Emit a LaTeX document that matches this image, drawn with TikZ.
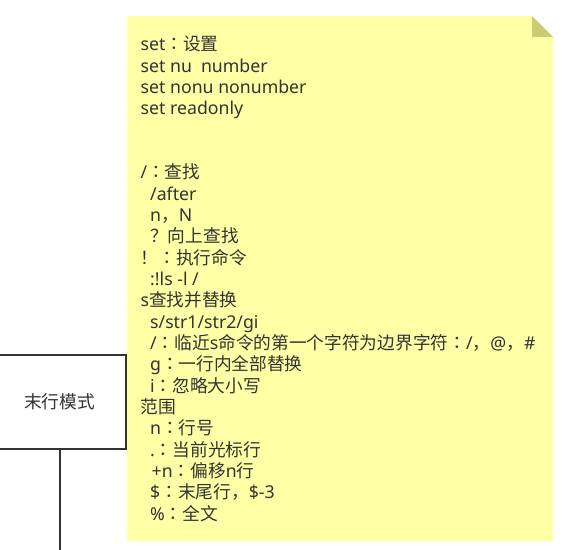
\documentclass[tikz,border=0pt]{standalone}
\usepackage{fontspec}
\setmainfont{Noto Sans}
\newfontfamily\cjk{Noto Sans CJK SC}
\newfontfamily\jpf{Noto Sans CJK JP}
\definecolor{notefill}{HTML}{FFFFA5}
\definecolor{notefold}{HTML}{CCCC77}
\definecolor{inkc}{HTML}{333333}
\newcommand\ind{\hspace*{9.5pt}}
\newcommand\cc{{\jpf ：}}
\begin{document}
\begin{tikzpicture}[x=1pt,y=-1pt,
  modebox/.style={draw=inkc,line width=2pt,fill=white,minimum width=133pt,minimum height=94pt,inner sep=0pt,text=inkc,font=\fontsize{17.7}{20}\selectfont\cjk},
  conn/.style={draw=inkc,line width=2pt},
  txt/.style={anchor=base west,inner sep=0pt,text=inkc,font=\fontsize{17.7}{20}\selectfont}]
\useasboundingbox (0,0) rectangle (588,549);
% note
\fill[notefill] (127,16) -- (532,16) -- (553,37) -- (553,541) -- (127,541) -- cycle;
\fill[notefold] (532,16) -- (553,37) -- (532,37) -- cycle;
% box and connector
\node[modebox] (mode) at (59.5,402) {末行模式};
\coordinate (lineend) at (59.5,552);
\draw[conn] (mode.south) -- (lineend);
% note text
\node[txt] (l1) at (140.5,50.7) {set\cc{\cjk 设置}};
\node[txt] (l2) at (140.5,72.0) {set nu\hspace{9pt}number};
\node[txt] (l3) at (140.5,93.4) {set nonu nonumber};
\node[txt] (l4) at (140.5,114.7) {set readonly};
\node[txt] (l7) at (140.5,178.7) {/\cc{\cjk 查找}};
\node[txt] (l8) at (140.5,200.0) {\ind/after};
\node[txt] (l9) at (140.5,221.3) {\ind n{\cjk ，}N};
\node[txt] (l10) at (140.5,242.7) {\ind{\cjk ？向上查找}};
\node[txt] (l11) at (140.5,264.0) {{\cjk ！}\cc{\cjk 执行命令}};
\node[txt] (l12) at (140.5,285.3) {\ind:!ls -l /};
\node[txt] (l13) at (140.5,306.7) {s{\cjk 查找并替换}};
\node[txt] (l14) at (140.5,328.0) {\ind s/str1/str2/gi};
\node[txt] (l15) at (140.5,349.3) {\ind/\cc{\cjk 临近}s{\cjk 命令的第一个字符为边界字符}\cc/{\cjk ，}@{\cjk ，}\#};
\node[txt] (l16) at (140.5,370.7) {\ind g\cc{\cjk 一行内全部替换}};
\node[txt] (l17) at (140.5,392.0) {\ind i\cc{\cjk 忽略大小写}};
\node[txt] (l18) at (140.5,413.3) {{\cjk 范围}};
\node[txt] (l19) at (140.5,434.7) {\ind n\cc{\cjk 行号}};
\node[txt] (l20) at (140.5,456.0) {\ind.\cc{\cjk 当前光标行}};
\node[txt] (l21) at (140.5,477.3) {\ind\hspace*{1.5pt}+n\cc{\cjk 偏移}n{\cjk 行}};
\node[txt] (l22) at (140.5,498.7) {\ind\$\cc{\cjk 末尾行，}\$-3};
\node[txt] (l23) at (140.5,520.0) {\ind\%\cc{\cjk 全文}};
\end{tikzpicture}
\end{document}
